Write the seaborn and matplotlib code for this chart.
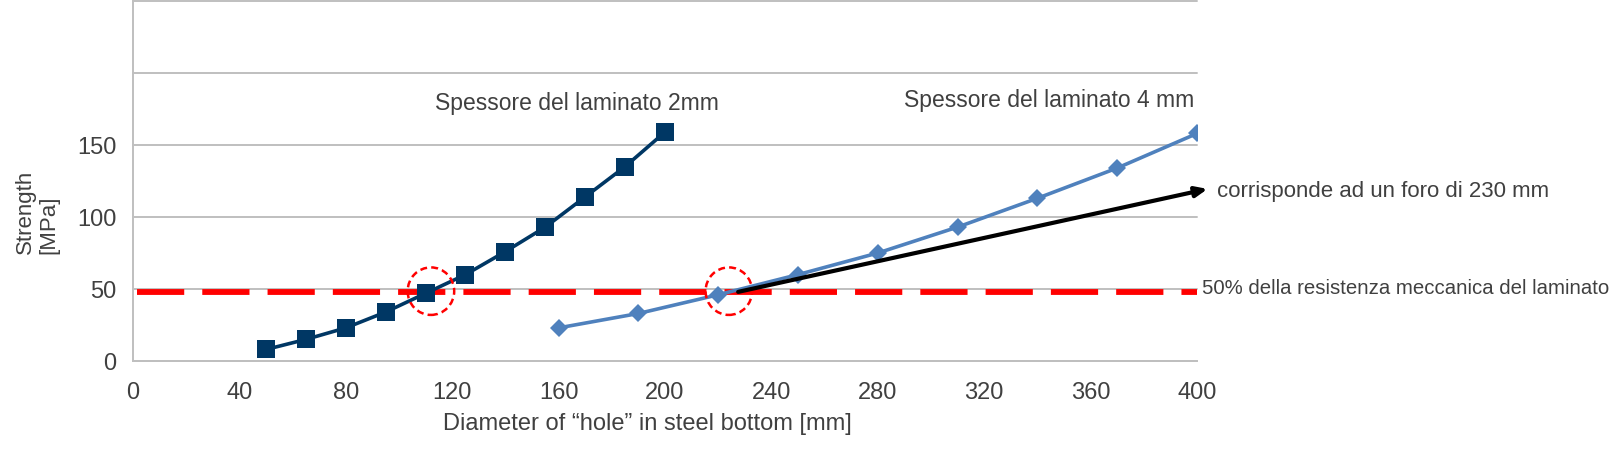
import numpy as np
import pandas as pd
import matplotlib
matplotlib.use("Agg")
import matplotlib.pyplot as plt
import seaborn as sns
from matplotlib.patches import Ellipse

# data
x_2mm = [50, 65, 80, 95, 110, 125, 140, 155, 170, 185, 200]
y_2mm = [8, 15, 23, 34, 47, 60, 76, 93, 114, 135, 159]
x_4mm = [160, 190, 220, 250, 280, 310, 340, 370, 400]
y_4mm = [23, 33, 46, 60, 75, 93, 113, 134, 158]
half_strength = 48
x_ticks = [0, 40, 80, 120, 160, 200, 240, 280, 320, 360, 400]
y_ticks = [0, 50, 100, 150, 200, 250]
y_tick_labels = ["0", "50", "100", "150", "", ""]

sns.set_style("white")
plt.rcParams["font.family"] = ["Liberation Sans", "DejaVu Sans"]
plt.rcParams["lines.scale_dashes"] = False

txt = "#404040"
grid = "#BFBFBF"
navy = "#003764"
light = "#4F81BD"

df2 = pd.DataFrame({"d": x_2mm, "s": y_2mm})
df4 = pd.DataFrame({"d": x_4mm, "s": y_4mm})

fig = plt.figure(figsize=(16.24, 4.54), dpi=100)
ax = fig.add_axes([133 / 1624, 1 - 361 / 454, (1197 - 133) / 1624, 360 / 454])

ax.set_xlim(0, 400)
ax.set_ylim(0, 250)
ax.set_xticks(x_ticks)
ax.set_yticks(y_ticks)
ax.set_yticklabels(y_tick_labels)
ax.yaxis.grid(True, color=grid, lw=1.4)
for gl in ax.get_ygridlines():
    gl.set_clip_on(False)
ax.set_axisbelow(True)
for s in ["top", "right"]:
    ax.spines[s].set_visible(False)
ax.spines["left"].set_color(grid)
ax.spines["bottom"].set_color(grid)
ax.spines["left"].set_linewidth(1.4)
ax.spines["bottom"].set_linewidth(1.4)
ax.tick_params(axis="both", colors=grid, width=1.4, length=6, labelcolor=txt, labelsize=17)
ax.tick_params(axis="x", pad=9)
ax.tick_params(axis="y", pad=6, direction="out")

# red 50% line
ax.plot([1.5, 400], [half_strength, half_strength], color="#FF0000", lw=4.2,
        dashes=(34, 13), dash_capstyle="butt", zorder=2)

sns.lineplot(data=df2, x="d", y="s", ax=ax, color=navy, lw=2.6, marker="s",
             markersize=13, markeredgewidth=0, zorder=3)
sns.lineplot(data=df4, x="d", y="s", ax=ax, color=light, lw=2.6, marker="D",
             markersize=9.5, markeredgewidth=0, zorder=3)

# dashed red circles
for cx in [112, 224]:
    ax.add_patch(Ellipse((cx, 48.5), width=17.5, height=33, fill=False,
                         edgecolor="#FF0000", lw=1.8, linestyle=(0, (5, 3)), zorder=4,
                         clip_on=False))

# black arrow
ax.annotate("", xy=(404, 119.5), xytext=(227.5, 48), annotation_clip=False,
            arrowprops=dict(arrowstyle="-|>,head_length=0.7,head_width=0.3",
                            color="black", lw=3, shrinkA=0, shrinkB=0), zorder=5)

ax.text(113.5, 179, "Spessore del laminato 2mm", color=txt, fontsize=16.5, va="center")
ax.text(399, 181, "Spessore del laminato 4 mm", color=txt, fontsize=16.5, va="center", ha="right")
ax.text(407.5, 117.5, "corrisponde ad un foro di 230 mm", color=txt, fontsize=16,
        va="center", clip_on=False)
ax.text(402, 50.5, "50% della resistenza meccanica del laminato", color=txt, fontsize=14.7,
        va="center", clip_on=False)

ax.set_xlabel("Diameter of \u201chole\u201d in steel bottom [mm]", color=txt, fontsize=17)
ax.xaxis.set_label_coords(0.483, -0.174)
ax.xaxis.label.set_va("center")
ax.set_ylabel("")
fig.text(37 / 1624, 1 - 254 / 454, "Strength\n[MPa]", rotation=90, color=txt, fontsize=16,
         ha="center", va="bottom", multialignment="left", linespacing=1.15)

fig.savefig("out.png", dpi=100)
